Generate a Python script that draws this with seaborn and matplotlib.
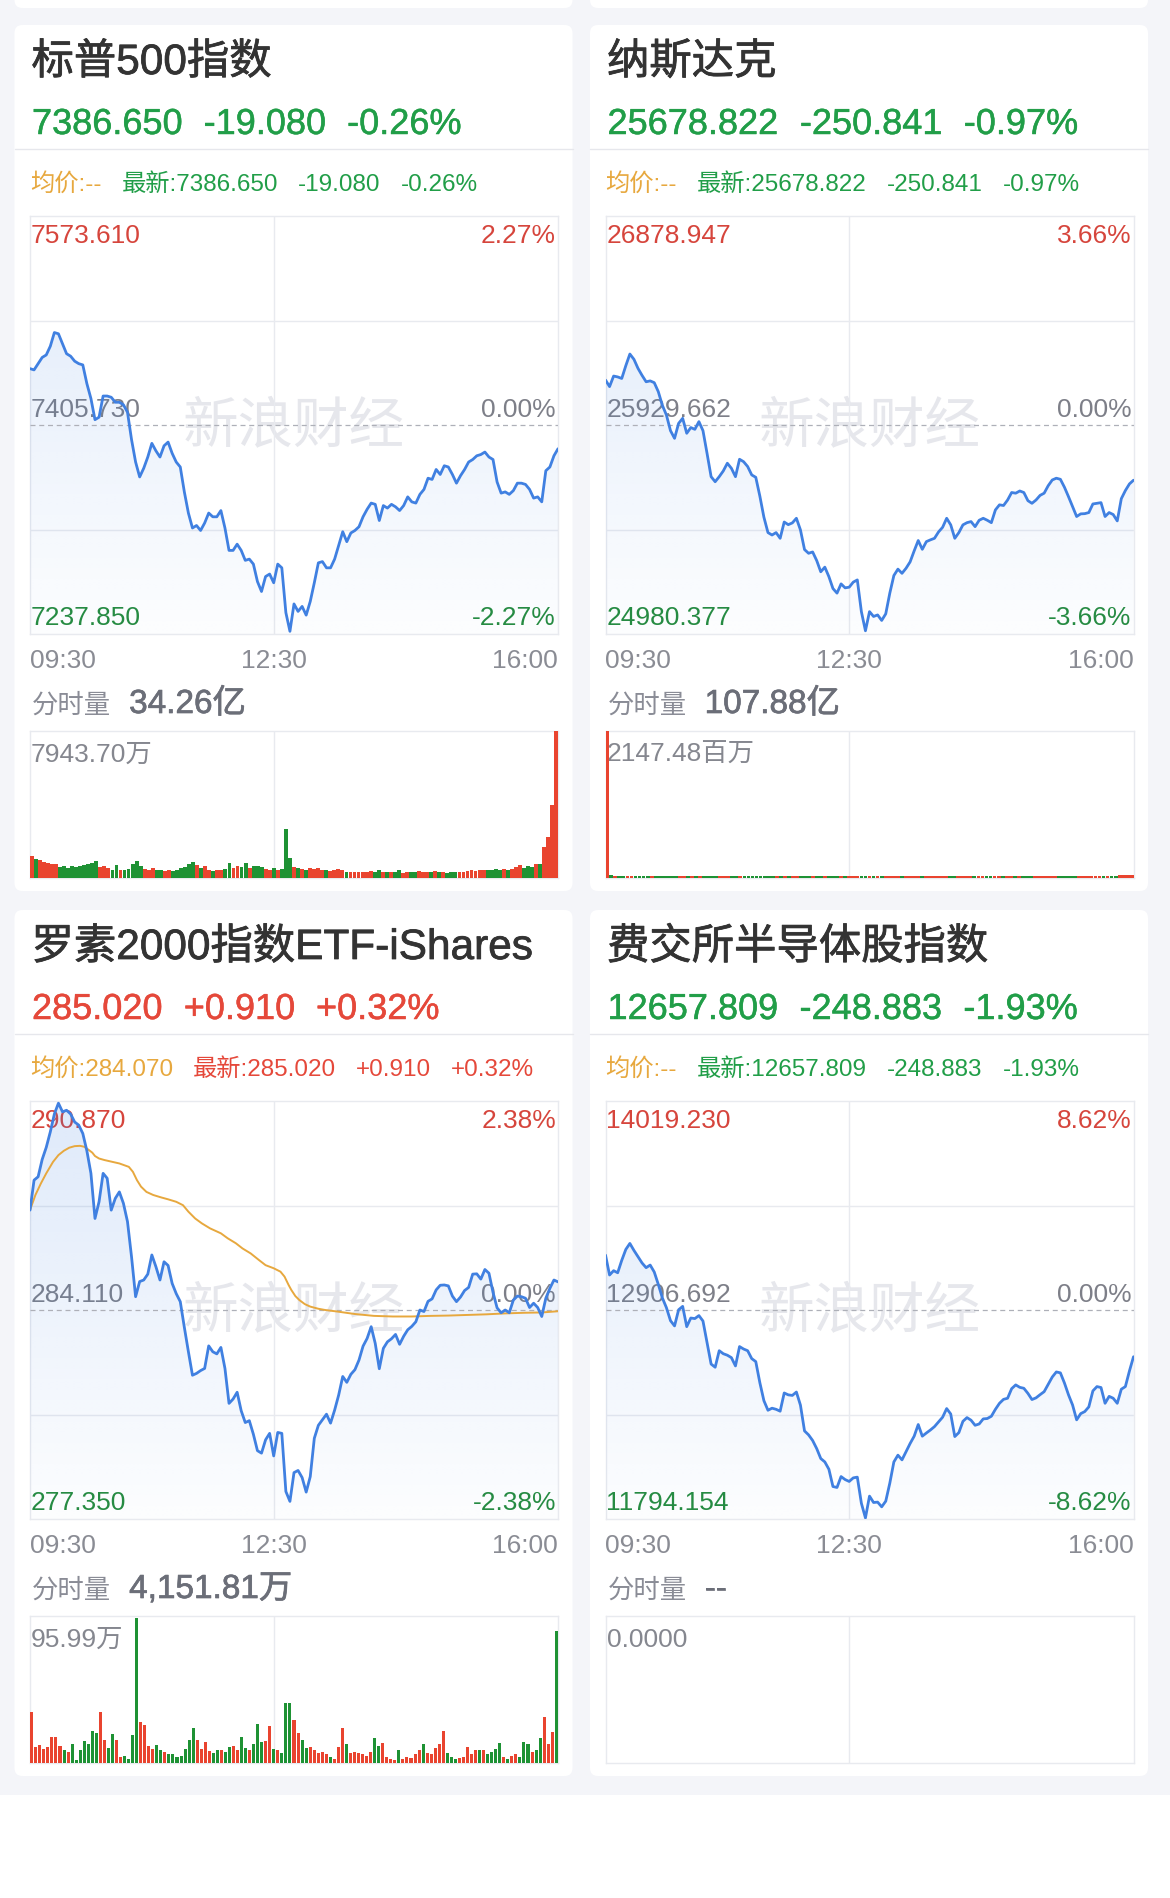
import numpy as np
import pandas as pd
import matplotlib
matplotlib.use("Agg")
import matplotlib.pyplot as plt
import matplotlib.patheffects as pe
from matplotlib.patches import FancyBboxPatch, Polygon, Rectangle
import seaborn as sns

W, H = 1170, 1898

# minutes after 09:30, one sample every 3 minutes
TIME_MIN = list(range(0, 391, 3))

SPX_PREV = 7405.730
SPX_PRICE = [7451, 7450, 7455, 7460, 7462, 7469, 7480, 7479, 7471, 7463,
             7461, 7457, 7455, 7454, 7439, 7427, 7410, 7412, 7429, 7429,
             7428, 7424, 7424, 7422, 7416, 7394, 7376, 7364, 7371, 7380,
             7391, 7385, 7380, 7389, 7392, 7383, 7376, 7372, 7352, 7335,
             7323, 7325, 7321, 7327, 7335, 7332, 7332, 7337, 7323, 7305,
             7305, 7310, 7305, 7297, 7298, 7294, 7280, 7272, 7284, 7286,
             7279, 7294, 7291, 7255, 7240, 7262, 7256, 7260, 7253, 7264,
             7279, 7295, 7296, 7291, 7291, 7298, 7309, 7320, 7312, 7319,
             7321, 7324, 7332, 7338, 7343, 7342, 7329, 7341, 7339, 7342,
             7340, 7337, 7341, 7348, 7344, 7343, 7350, 7354, 7363, 7362,
             7370, 7366, 7373, 7372, 7366, 7359, 7365, 7370, 7376, 7378,
             7381, 7382, 7384, 7380, 7378, 7360, 7351, 7352, 7350, 7353,
             7359, 7359, 7358, 7354, 7347, 7348, 7344, 7369, 7372, 7381,
             7386.65]
SPX_VOL = [1173, 1047, 957, 866, 812, 776, 740, 596, 632, 560,
           668, 596, 632, 686, 740, 812, 921, 596, 668, 560,
           451, 686, 451, 415, 505, 740, 921, 668, 505, 451,
           542, 415, 451, 379, 415, 379, 451, 523, 596, 776,
           848, 686, 523, 632, 415, 379, 451, 415, 505, 812,
           560, 668, 596, 812, 523, 632, 668, 596, 487, 451,
           560, 415, 487, 2635, 1101, 596, 523, 487, 451, 523,
           487, 560, 451, 415, 379, 451, 487, 415, 343, 307,
           307, 325, 343, 307, 379, 343, 415, 307, 343, 307,
           325, 415, 289, 325, 307, 343, 379, 343, 307, 343,
           379, 343, 307, 289, 325, 307, 343, 307, 361, 415,
           379, 451, 415, 451, 415, 487, 451, 487, 451, 487,
           596, 704, 560, 632, 596, 740, 740, 1679, 2220, 3935,
           7943.70]

NDX_PREV = 25929.662
NDX_PRICE = [26134, 26104, 26152, 26148, 26141, 26199, 26252, 26228, 26187, 26155,
             26126, 26130, 26122, 26081, 26019, 25975, 25904, 25869, 25937, 25960,
             25892, 25918, 25910, 25945, 25904, 25801, 25695, 25672, 25695, 25721,
             25756, 25733, 25695, 25774, 25763, 25741, 25703, 25692, 25607, 25511,
             25441, 25430, 25441, 25415, 25489, 25477, 25485, 25506, 25453, 25364,
             25347, 25353, 25314, 25263, 25284, 25241, 25187, 25166, 25208, 25190,
             25193, 25216, 25226, 25082, 24995, 25082, 25060, 25067, 25042, 25072,
             25166, 25246, 25275, 25256, 25279, 25308, 25358, 25405, 25365, 25400,
             25408, 25415, 25444, 25465, 25506, 25476, 25415, 25441, 25476, 25486,
             25491, 25468, 25497, 25506, 25497, 25486, 25544, 25567, 25564, 25589,
             25623, 25620, 25630, 25623, 25586, 25574, 25589, 25610, 25620, 25654,
             25680, 25688, 25683, 25647, 25604, 25559, 25514, 25526, 25527, 25532,
             25571, 25574, 25577, 25514, 25532, 25523, 25494, 25595, 25632, 25662,
             25678.822]
NDX_VOL = [2147.48,
           38, 32, 30, 35, 28, 26, 30, 27, 25, 29,
           31, 26, 24, 28, 33, 27, 25, 29, 26, 24,
           28, 30, 26, 25, 27, 32, 29, 26, 24, 27,
           25, 28, 26, 24, 30, 27, 25, 23, 26, 28,
           24, 26, 25, 27, 23, 25, 28, 26, 24, 27,
           25, 23, 26, 28, 25, 27, 29, 26, 24, 27,
           25, 35, 33, 30, 28, 26, 25, 27, 24, 26,
           28, 25, 23, 26, 24, 27, 25, 23, 26, 24,
           25, 27, 24, 26, 23, 25, 27, 24, 26, 25,
           23, 26, 24, 27, 25, 23, 26, 28, 24, 26,
           25, 27, 24, 26, 28, 25, 27, 24, 26, 29,
           27, 25, 28, 30, 27, 29, 26, 28, 31, 29,
           30, 33, 31, 34, 32, 36, 38, 42, 45, 48]

RUT_PREV = 284.110
RUT_PRICE = [287.34, 288.31, 288.42, 288.98, 289.37, 289.87, 290.45, 290.80, 290.52, 290.57,
             290.45, 290.19, 290.09, 289.82, 289.26, 288.53, 287.07, 287.61, 288.53, 288.37,
             287.34, 287.72, 287.93, 287.56, 286.97, 285.83, 284.54, 285.03, 285.08, 285.27,
             285.89, 285.51, 285.08, 285.67, 285.55, 284.97, 284.64, 284.38, 283.55, 282.76,
             282.00, 282.06, 282.15, 282.22, 282.95, 282.76, 282.69, 282.90, 282.22, 281.09,
             281.23, 281.45, 280.85, 280.47, 280.53, 280.09, 279.56, 279.48, 279.91, 280.12,
             279.39, 280.15, 280.12, 278.24, 277.92, 278.85, 278.92, 278.69, 278.22, 278.72,
             279.96, 280.38, 280.56, 280.74, 280.45, 280.87, 281.36, 281.96, 281.77, 282.03,
             282.18, 282.49, 282.94, 283.19, 283.57, 283.03, 282.21, 282.87, 283.08, 283.18,
             283.32, 283.00, 283.26, 283.47, 283.58, 283.73, 284.11, 284.06, 284.39, 284.47,
             284.76, 284.91, 284.92, 284.89, 284.56, 284.38, 284.53, 284.74, 284.84, 285.27,
             285.28, 285.11, 285.42, 285.30, 284.68, 284.18, 284.02, 284.11, 284.02, 284.43,
             284.56, 284.54, 284.49, 284.19, 284.33, 284.19, 283.90, 284.49, 284.81, 285.08,
             285.02]
RUT_AVG_MIN = [0, 4, 8, 12, 17, 21, 25, 29, 33, 37, 40, 43, 46, 48, 51, 55, 61, 66, 73, 76,
               79, 82, 86, 91, 97, 102, 108, 113, 117, 122, 127, 133, 141, 146, 152, 157, 163,
               169, 174, 180, 185, 188, 191, 193, 196, 199, 203, 207, 213, 218, 227, 240, 254,
               268, 282, 296, 309, 323, 337, 351, 365, 378, 390]
RUT_AVG = [287.34, 287.83, 288.20, 288.53, 288.90, 289.12, 289.26, 289.36, 289.41, 289.42,
           289.39, 289.30, 289.20, 289.09, 289.01, 288.96, 288.90, 288.85, 288.74, 288.58,
           288.31, 288.10, 287.93, 287.83, 287.75, 287.69, 287.61, 287.50, 287.29, 287.07,
           286.91, 286.75, 286.59, 286.43, 286.27, 286.10, 285.94, 285.73, 285.56, 285.46,
           285.35, 285.19, 284.92, 284.76, 284.56, 284.43, 284.30, 284.22, 284.15, 284.11,
           284.06, 283.98, 283.92, 283.90, 283.90, 283.92, 283.93, 283.95, 283.97, 284.00,
           284.02, 284.03, 284.07]
RUT_VOL = [33.5, 10.5, 11.6, 9.4, 10.5, 16.7, 17.1, 11.0, 8.3, 7.2,
           12.7, 1.8, 8.3, 14.5, 12.7, 21.0, 19.3, 33.5, 14.9, 10.1,
           18.9, 14.9, 3.9, 4.4, 2.8, 18.2, 94.9, 27.0, 24.8, 11.0,
           9.4, 11.6, 8.8, 7.2, 6.1, 5.7, 3.9, 4.4, 9.4, 14.9,
           22.6, 15.3, 9.4, 13.8, 7.9, 6.6, 8.3, 8.8, 7.2, 10.5,
           11.0, 8.3, 16.7, 10.1, 8.8, 12.7, 25.4, 13.8, 14.5, 24.1,
           9.4, 8.8, 6.6, 39.5, 39.0, 28.1, 19.3, 14.9, 10.1, 10.5,
           8.8, 6.6, 7.2, 5.7, 3.9, 2.8, 10.5, 22.6, 12.7, 6.6,
           7.2, 6.6, 5.7, 4.4, 7.2, 16.0, 11.0, 13.2, 3.9, 2.8,
           1.8, 8.8, 2.8, 3.9, 3.5, 5.7, 8.3, 12.7, 6.6, 5.7,
           10.1, 12.7, 21.0, 6.6, 3.9, 2.8, 3.5, 3.9, 10.5, 6.1,
           8.8, 8.8, 8.3, 5.7, 7.2, 9.4, 13.2, 3.9, 2.8, 4.4,
           5.7, 3.9, 13.8, 12.7, 7.2, 8.3, 16.0, 30.2, 12.7, 20.4,
           86.1]

SOX_PREV = 12906.692
SOX_PRICE = [13199, 13093, 13116, 13105, 13171, 13229, 13261, 13224, 13190, 13157,
             13132, 13146, 13109, 13043, 12971, 12919, 12850, 12822, 12908, 12926,
             12818, 12864, 12861, 12877, 12848, 12735, 12619, 12602, 12690, 12674,
             12666, 12653, 12609, 12712, 12699, 12690, 12648, 12632, 12520, 12424,
             12373, 12384, 12378, 12368, 12465, 12455, 12452, 12470, 12400, 12263,
             12242, 12212, 12169, 12116, 12098, 12059, 11967, 11962, 12020, 12004,
             11994, 12013, 12017, 11878, 11800, 11916, 11882, 11884, 11859, 11889,
             11985, 12098, 12134, 12109, 12153, 12196, 12235, 12297, 12235, 12252,
             12268, 12286, 12311, 12336, 12382, 12353, 12233, 12254, 12314, 12334,
             12320, 12293, 12300, 12327, 12329, 12341, 12378, 12410, 12431, 12437,
             12488, 12508, 12495, 12490, 12463, 12430, 12439, 12456, 12472, 12511,
             12550, 12577, 12572, 12518, 12455, 12401, 12322, 12355, 12366, 12391,
             12476, 12499, 12494, 12410, 12447, 12437, 12410, 12485, 12499, 12582,
             12657.809]

TITLES = ['标普500指数', '纳斯达克', '罗素2000指数ETF-iShares', '费交所半导体股指数']
LAST = ['7386.650', '25678.822', '285.020', '12657.809']
CHG = ['-19.080', '-250.841', '+0.910', '-248.883']
PCT = ['-0.26%', '-0.97%', '+0.32%', '-1.93%']
AVG_TXT = ['--', '--', '284.070', '--']
HI_TXT = ['7573.610', '26878.947', '290.870', '14019.230']
LO_TXT = ['7237.850', '24980.377', '277.350', '11794.154']
MID_TXT = ['7405.730', '25929.662', '284.110', '12906.692']
RANGE_PCT = ['2.27%', '3.66%', '2.38%', '8.62%']
VOL_TOTAL = ['34.26亿', '107.88亿', '4,151.81万', '--']
VOL_MAX_TXT = ['7943.70万', '2147.48百万', '95.99万', '0.0000']
VOL_MAX = [7943.70, 2147.48, 95.99, 1.0]
BAR_WIDTH = [0.95, 0.95, 0.75, 0.95]

RED = '#e5483a'
GREEN = '#219e48'
LBL_RED = '#d6453c'
LBL_GREEN = '#268c40'
GRAY = '#7d7f88'
TICK = '#8a8c94'
ORANGE = '#e7a83e'
BLUE = '#4080e1'
GRID = '#e8eaef'
BAR_RED = '#e9442f'
BAR_GREEN = '#1e9234'
FAM = ['Liberation Sans', 'Noto Sans CJK SC']

sns.set_theme(style='white')
plt.rcParams['font.family'] = FAM

CARD_W, CARD_H = 558, 866


def heavier(color, w):
    # slightly thicker strokes, like a medium font weight
    return [pe.withStroke(linewidth=w, foreground=color)]


def text_row(bg, rend, x, y, parts, size, gap, stroke=0):
    for s, c in parts:
        t = bg.text(x, y, s, fontsize=size, color=c, ha='left', va='baseline', family=FAM)
        if stroke:
            t.set_path_effects(heavier(c, stroke))
        x = t.get_window_extent(rend).x1 + gap
    return x


def px_axes(fig, x0, y0, x1, y1):
    return fig.add_axes([x0 / W, 1 - y1 / H, (x1 - x0) / W, (y1 - y0) / H])


def style_axes(ax):
    ax.set_facecolor('none')
    ax.set_xticks([])
    ax.set_yticks([])
    ax.set_xlabel('')
    ax.set_ylabel('')
    for s in ax.spines.values():
        s.set_visible(True)
        s.set_color(GRID)
        s.set_linewidth(1)
        s.set_zorder(0.4)


def panel(fig, bg, rend, L, T, i, price, prev, vol, avg=None):
    bg.add_patch(FancyBboxPatch((L, T), CARD_W, CARD_H, boxstyle='round,pad=0,rounding_size=8',
                                fc='white', ec='none', zorder=0))
    bg.plot([L, L + CARD_W], [T + 124, T + 124], color='#e6e7ec', lw=1, zorder=1)
    col = RED if CHG[i].startswith('+') else GREEN

    bg.text(L + 17, T + 49, TITLES[i], fontsize=30.5, color='#333333', family=FAM,
            va='baseline', path_effects=heavier('#333333', 0.55))
    text_row(bg, rend, L + 17.5, T + 109, [(LAST[i], col), (CHG[i], col), (PCT[i], col)], 26, 21,
             stroke=0.35)
    text_row(bg, rend, L + 15.5, T + 166,
             [('均价:' + AVG_TXT[i], ORANGE), ('最新:' + LAST[i], col), (CHG[i], col), (PCT[i], col)],
             17.5, 20)

    cx0, cx1 = L + 15.5, L + 543.5
    cy0, cy1 = T + 191, T + 609
    mid = (cy0 + cy1) / 2
    lo, hi = float(LO_TXT[i]), float(HI_TXT[i])

    # labels and watermark under the chart
    bg.text((cx0 + cx1) / 2, mid + 2, '新浪财经', fontsize=40, color='#e6e7ec',
            ha='center', va='center', family=['Noto Sans CJK SC'], zorder=1)
    bg.text(cx0 + 1, cy0 + 27, HI_TXT[i], fontsize=19, color=LBL_RED, va='baseline')
    bg.text(cx1 - 2, cy0 + 27, RANGE_PCT[i], fontsize=19, color=LBL_RED, va='baseline', ha='right')
    bg.text(cx0 + 1, mid - 8, MID_TXT[i], fontsize=19, color=GRAY, va='baseline')
    bg.text(cx1 - 2, mid - 8, '0.00%', fontsize=19, color=GRAY, va='baseline', ha='right')
    bg.text(cx0 + 1, cy1 - 9, LO_TXT[i], fontsize=19, color=LBL_GREEN, va='baseline')
    bg.text(cx1 - 2, cy1 - 9, '-' + RANGE_PCT[i], fontsize=19, color=LBL_GREEN, va='baseline', ha='right')

    bg.text(cx0, T + 643, '09:30', fontsize=19, color=TICK, va='baseline')
    bg.text(cx0 + (cx1 - cx0) * 180 / 390, T + 643, '12:30', fontsize=19, color=TICK,
            va='baseline', ha='center')
    bg.text(cx1, T + 643, '16:00', fontsize=19, color=TICK, va='baseline', ha='right')

    x = text_row(bg, rend, L + 17.5, T + 688, [('分时量', '#8a8c96')], 19, 18)
    bg.text(x, T + 688, VOL_TOTAL[i], fontsize=24, color='#6b6e78', va='baseline',
            path_effects=heavier('#6b6e78', 0.5))

    vy0, vy1 = T + 706, T + 853
    bg.text(cx0 + 1, vy0 + 31, VOL_MAX_TXT[i], fontsize=19, color='#85878f', va='baseline')

    # price chart
    ax = px_axes(fig, cx0, cy0, cx1, cy1)
    half = (hi - prev) / 2
    for yv in (prev + half, prev - half):
        ax.axhline(yv, color=GRID, lw=1, zorder=0.5)
    ax.axvline(180, color=GRID, lw=1, zorder=0.5)
    ax.axhline(prev, color='#aeb0b8', lw=0.9, ls=(0, (4, 3)), zorder=1.5)

    verts = np.column_stack([[0] + TIME_MIN + [390], [lo] + list(price) + [lo]])
    poly = Polygon(verts, closed=True, fc='none', ec='none')
    ax.add_patch(poly)
    grad = np.zeros((256, 1, 4))
    grad[..., 0], grad[..., 1], grad[..., 2] = 64 / 255, 128 / 255, 225 / 255
    grad[:, 0, 3] = np.linspace(0.015, 0.17, 256)
    im = ax.imshow(grad, extent=[0, 390, lo, hi], origin='lower', aspect='auto',
                   interpolation='bilinear', zorder=1)
    im.set_clip_path(poly)

    if avg is not None:
        sns.lineplot(x=avg[0], y=avg[1], ax=ax, color=ORANGE, linewidth=1.4, zorder=2, sort=False)
    sns.lineplot(x=TIME_MIN, y=price, ax=ax, color=BLUE, linewidth=2.0, zorder=3, sort=False)
    ax.set_xlim(0, 390)
    ax.set_ylim(lo, hi)
    style_axes(ax)

    # volume chart
    vx = px_axes(fig, cx0, vy0, cx1, vy1)
    if vol is not None:
        steps = np.diff(np.r_[prev, price])
        df = pd.DataFrame({'t': TIME_MIN, 'v': vol,
                           'd': np.where(steps >= 0, 'up', 'down')})
        sns.barplot(data=df, x='t', y='v', hue='d', palette={'up': BAR_RED, 'down': BAR_GREEN},
                    native_scale=True, dodge=False, width=BAR_WIDTH[i], saturation=1,
                    errorbar=None, legend=False, linewidth=0, ax=vx, zorder=2)
    vx.axvline(180, color=GRID, lw=1, zorder=0.5)
    vx.set_xlim(-1.3, 391.3)
    vx.set_ylim(0, VOL_MAX[i])
    style_axes(vx)


fig = plt.figure(figsize=(W / 100, H / 100), dpi=100)
fig.patch.set_facecolor('#f4f5f9')
bg = fig.add_axes([0, 0, 1, 1], zorder=0)
bg.set_xlim(0, W)
bg.set_ylim(H, 0)
bg.axis('off')
rend = fig.canvas.get_renderer()

# strip of the cards above, and the white area at the bottom
for L in (14.5, 590):
    bg.add_patch(FancyBboxPatch((L, -20), CARD_W, 28, boxstyle='round,pad=0,rounding_size=8',
                                fc='white', ec='none', zorder=0))
bg.add_patch(Rectangle((0, 1795), W, H - 1795, fc='white', ec='none', zorder=0))

panel(fig, bg, rend, 14.5, 25, 0, SPX_PRICE, SPX_PREV, SPX_VOL)
panel(fig, bg, rend, 590, 25, 1, NDX_PRICE, NDX_PREV, NDX_VOL)
panel(fig, bg, rend, 14.5, 910, 2, RUT_PRICE, RUT_PREV, RUT_VOL, avg=(RUT_AVG_MIN, RUT_AVG))
panel(fig, bg, rend, 590, 910, 3, SOX_PRICE, SOX_PREV, None)

fig.savefig('out.png', dpi=100, facecolor=fig.get_facecolor())
